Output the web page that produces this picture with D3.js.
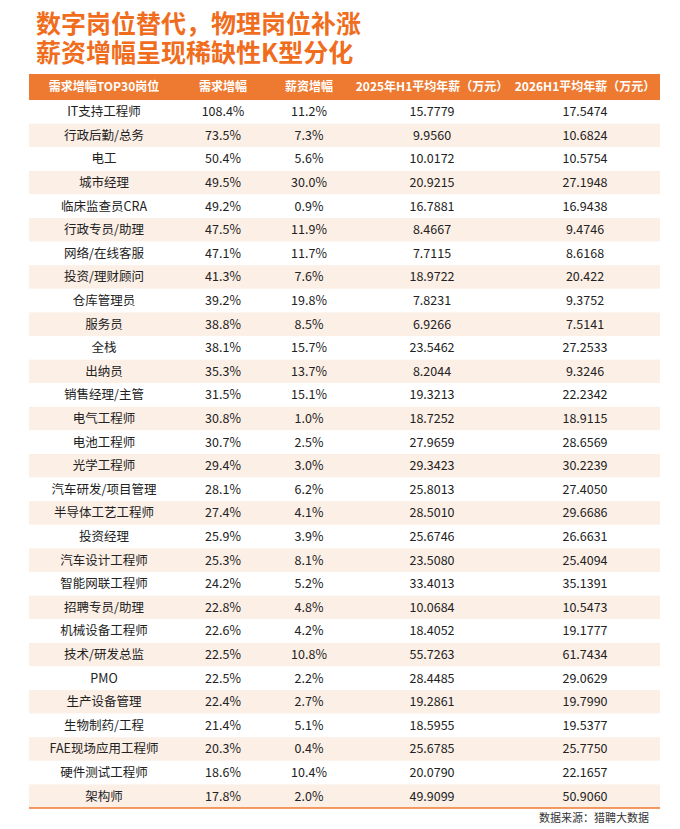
<!DOCTYPE html>
<html>
<head>
<meta charset="utf-8">
<script src="https://cdn.jsdelivr.net/npm/d3@7"></script>
<style>
  body { margin: 0; background: #fff; position: relative; }
  svg { display: block; }
  .title {
    position: absolute;
    left: 36px;
    top: 7.5px;
    color: #f06d1e;
    font-family: 'Noto Sans CJK SC', 'Noto Sans', sans-serif;
    font-weight: 700;
    font-size: 25px;
    line-height: 29px;
    white-space: nowrap;
  }
</style>
</head>
<body>
<script>
var titleLines = ["数字岗位替代，物理岗位补涨", "薪资增幅呈现稀缺性K型分化"];
var headers = ["需求增幅TOP30岗位", "需求增幅", "薪资增幅", "2025年H1平均年薪（万元）", "2026H1平均年薪（万元）"];
var positions = ["IT支持工程师", "行政后勤/总务", "电工", "城市经理", "临床监查员CRA", "行政专员/助理",
  "网络/在线客服", "投资/理财顾问", "仓库管理员", "服务员", "全栈", "出纳员", "销售经理/主管",
  "电气工程师", "电池工程师", "光学工程师", "汽车研发/项目管理", "半导体工艺工程师", "投资经理",
  "汽车设计工程师", "智能网联工程师", "招聘专员/助理", "机械设备工程师", "技术/研发总监", "PMO",
  "生产设备管理", "生物制药/工程", "FAE现场应用工程师", "硬件测试工程师", "架构师"];
var demandGrowth = ["108.4%", "73.5%", "50.4%", "49.5%", "49.2%", "47.5%", "47.1%", "41.3%", "39.2%", "38.8%",
  "38.1%", "35.3%", "31.5%", "30.8%", "30.7%", "29.4%", "28.1%", "27.4%", "25.9%", "25.3%",
  "24.2%", "22.8%", "22.6%", "22.5%", "22.5%", "22.4%", "21.4%", "20.3%", "18.6%", "17.8%"];
var salaryGrowth = ["11.2%", "7.3%", "5.6%", "30.0%", "0.9%", "11.9%", "11.7%", "7.6%", "19.8%", "8.5%",
  "15.7%", "13.7%", "15.1%", "1.0%", "2.5%", "3.0%", "6.2%", "4.1%", "3.9%", "8.1%",
  "5.2%", "4.8%", "4.2%", "10.8%", "2.2%", "2.7%", "5.1%", "0.4%", "10.4%", "2.0%"];
var salary2025 = ["15.7779", "9.9560", "10.0172", "20.9215", "16.7881", "8.4667", "7.7115", "18.9722", "7.8231", "6.9266",
  "23.5462", "8.2044", "19.3213", "18.7252", "27.9659", "29.3423", "25.8013", "28.5010", "25.6746", "23.5080",
  "33.4013", "10.0684", "18.4052", "55.7263", "28.4485", "19.2861", "18.5955", "25.6785", "20.0790", "49.9099"];
var salary2026 = ["17.5474", "10.6824", "10.5754", "27.1948", "16.9438", "9.4746", "8.6168", "20.422", "9.3752", "7.5141",
  "27.2533", "9.3246", "22.2342", "18.9115", "28.6569", "30.2239", "27.4050", "29.6686", "26.6631", "25.4094",
  "35.1391", "10.5473", "19.1777", "61.7434", "29.0629", "19.7990", "19.5377", "25.7750", "22.1657", "50.9060"];
var source = "数据来源：猎聘大数据";

var width = 680;
var height = 829;
var orange = "#ee7a31";
var font = "'Noto Sans CJK SC', 'Noto Sans', sans-serif";

var svg = d3.select("body")
    .append("svg")
    .attr("width", width)
    .attr("height", height);

// title as one html block (two lines)
d3.select("body")
    .append("div")
    .classed("title", true)
    .html(titleLines.join("<br>"));

var table = { left: 29, right: 660, headTop: 74, headBottom: 100, bottom: 808 };

// columns
var colCenters = [104, 223, 309, 432, 585];
var xScale = d3.scaleOrdinal()
    .domain(d3.range(headers.length))
    .range(colCenters);

var yScale = d3.scaleBand()
    .domain(d3.range(positions.length))
    .range([table.headBottom, table.bottom]);

// header
svg.append("rect")
    .attr("x", table.left)
    .attr("y", table.headTop)
    .attr("width", table.right - table.left)
    .attr("height", table.headBottom - table.headTop)
    .attr("fill", orange);

svg.append("g").selectAll("text")
    .data(headers)
    .enter()
    .append("text")
    .attr("x", function (d, i) { return xScale(i); })
    .attr("y", (table.headTop + table.headBottom) / 2)
    .attr("dy", "0.36em")
    .attr("text-anchor", "middle")
    .attr("fill", "#fff")
    .attr("font-family", font)
    .attr("font-weight", 700)
    .attr("font-size", 12)
    .text(function (d) { return d; });

// rows
var rows = positions.map(function (p, i) {
    return [p, demandGrowth[i], salaryGrowth[i], salary2025[i], salary2026[i]];
});

var rowGroups = svg.append("g")
    .selectAll(".row")
    .data(rows)
    .enter()
    .append("g")
    .classed("row", true)
    .attr("transform", function (d, i) { return "translate(0," + yScale(i) + ")"; });

rowGroups.append("rect")
    .attr("x", table.left)
    .attr("width", table.right - table.left)
    .attr("height", yScale.bandwidth())
    .attr("fill", function (d, i) { return i % 2 ? "#fcefe6" : "#fff"; });

rowGroups.selectAll("text")
    .data(function (d) { return d; })
    .enter()
    .append("text")
    .attr("x", function (d, i) { return xScale(i); })
    .attr("y", yScale.bandwidth() / 2)
    .attr("dy", "0.36em")
    .attr("text-anchor", "middle")
    .attr("fill", "#222")
    .attr("font-family", font)
    .attr("font-size", 12.5)
    .text(function (d) { return d; });

// bottom rule
svg.append("line")
    .attr("x1", table.left)
    .attr("x2", table.right)
    .attr("y1", table.bottom)
    .attr("y2", table.bottom)
    .attr("stroke", orange)
    .attr("stroke-width", 1.5);

// source
svg.append("text")
    .attr("x", 649)
    .attr("y", 822)
    .attr("text-anchor", "end")
    .attr("fill", "#333")
    .attr("font-family", font)
    .attr("font-size", 11)
    .text(source);
</script>
</body>
</html>
